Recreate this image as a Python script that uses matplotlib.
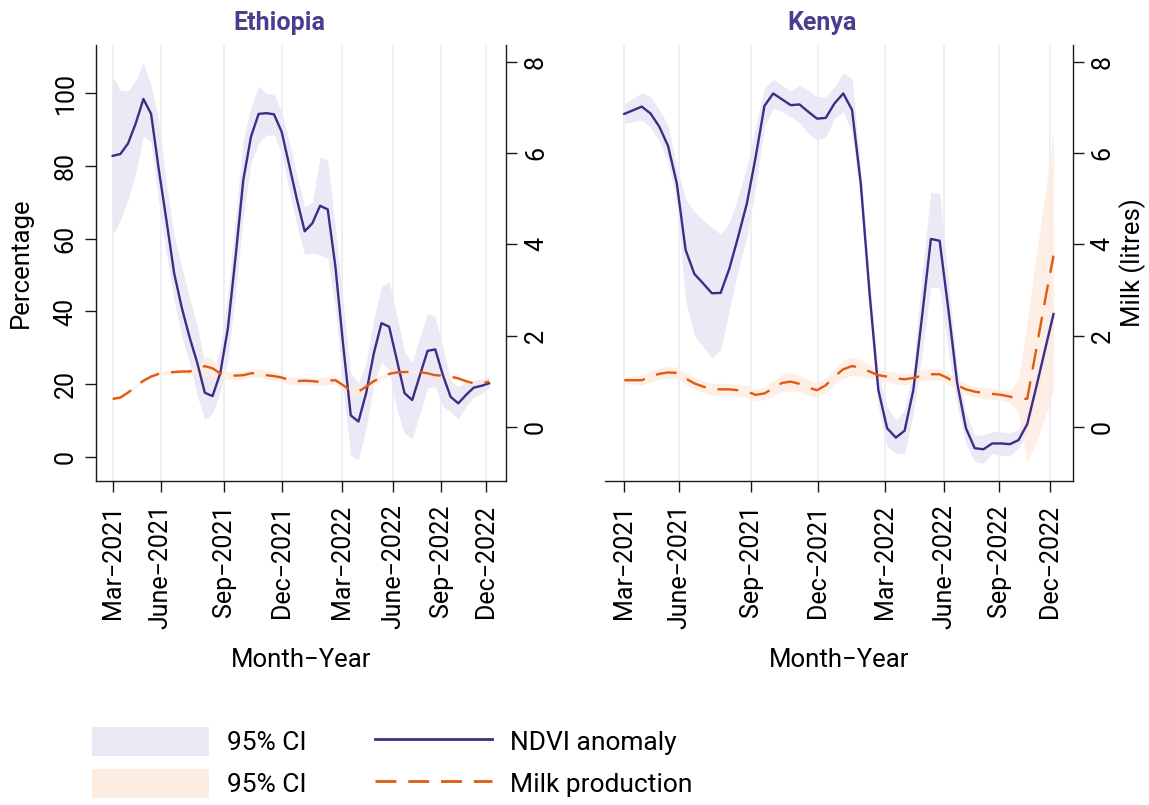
import matplotlib
matplotlib.use("Agg")
import matplotlib.pyplot as plt
from matplotlib.patches import Patch
from matplotlib.lines import Line2D

plt.rcParams['font.family'] = ['Roboto', 'DejaVu Sans']
plt.rcParams['lines.scale_dashes'] = False

# observation index (semi-monthly rounds) and where the month labels fall
obs = list(range(50))
tick_pos = [0, 6.25, 14.45, 22.1, 29.8, 36.5, 42.8, 48.6]
tick_labels = ["Mar\u22122021", "June\u22122021", "Sep\u22122021", "Dec\u22122021",
               "Mar\u22122022", "June\u22122022", "Sep\u22122022", "Dec\u22122022"]

# Ethiopia: NDVI anomaly (percentage) with 95% CI
eth_ndvi = [82.7, 83.2, 86.1, 91.6, 98.3, 94.2, 79, 65, 50.5, 41,
            33, 26, 17.7, 16.8, 23, 35.4, 55, 76, 87.9, 94.2,
            94.4, 94.1, 89.3, 80, 70.6, 62, 64.2, 69, 68, 52.3,
            31, 11.5, 9.8, 17.6, 28.5, 36.8, 35.8, 26.7, 17.6, 15.7,
            22.5, 29.2, 29.6, 22.5, 16.6, 14.8, 17.1, 19.1, 19.6, 20.3]
eth_ndvi_hi = [104.6, 100.7, 100.5, 103.5, 108.1, 102.1, 92, 75, 61, 52,
               44, 36, 26, 22, 30, 45, 66, 87, 96.2, 101.8,
               99.8, 99.6, 94.8, 86.5, 77, 68.7, 70, 82.4, 81.5, 63,
               43, 23, 20.3, 26, 38, 46.8, 48.2, 39, 29, 26,
               33, 39.5, 38.6, 30, 21, 19.5, 20.5, 21, 21.5, 22.1]
eth_ndvi_lo = [61, 65.1, 70.6, 77.9, 88.1, 86.6, 70, 56, 43, 33,
               26, 17, 10.3, 12, 18, 27, 45, 66, 80.6, 86.1,
               88.4, 88.4, 83.4, 73, 63.5, 55.5, 56, 55.5, 54.6, 41,
               19, 0.5, -0.7, 8, 20, 26.2, 23.9, 13, 6.6, 5.2,
               12, 19, 19.4, 14, 12.5, 10.5, 14, 16.5, 17.5, 19]

# Ethiopia: milk production (litres) with 95% CI
eth_milk = [0.61, 0.64, 0.75, 0.88, 1.01, 1.10, 1.16, 1.18, 1.20, 1.21,
            1.21, 1.26, 1.33, 1.28, 1.17, 1.13, 1.12, 1.13, 1.17, 1.18,
            1.13, 1.11, 1.08, 1.02, 1.00, 1.01, 1.00, 0.98, 1.01, 1.02,
            0.91, 0.79, 0.77, 0.88, 1.00, 1.08, 1.16, 1.19, 1.20, 1.20,
            1.20, 1.17, 1.13, 1.12, 1.10, 1.06, 1.00, 0.95, 0.95, 0.99]
eth_milk_hi = [0.64, 0.67, 0.78, 0.91, 1.04, 1.13, 1.19, 1.22, 1.24, 1.26,
               1.27, 1.38, 1.55, 1.48, 1.29, 1.21, 1.21, 1.22, 1.26, 1.27,
               1.22, 1.20, 1.17, 1.11, 1.09, 1.10, 1.09, 1.07, 1.10, 1.11,
               1.02, 0.91, 0.89, 0.98, 1.07, 1.13, 1.20, 1.23, 1.24, 1.24,
               1.24, 1.21, 1.17, 1.16, 1.14, 1.10, 1.04, 1.00, 1.00, 1.04]
eth_milk_lo = [0.58, 0.61, 0.72, 0.85, 0.98, 1.07, 1.13, 1.14, 1.16, 1.16,
               1.15, 1.14, 1.11, 1.08, 1.05, 1.05, 1.03, 1.04, 1.08, 1.09,
               1.04, 1.02, 0.99, 0.93, 0.91, 0.92, 0.91, 0.89, 0.92, 0.93,
               0.80, 0.67, 0.65, 0.78, 0.93, 1.03, 1.12, 1.15, 1.16, 1.16,
               1.16, 1.13, 1.09, 1.08, 1.06, 1.02, 0.96, 0.90, 0.90, 0.94]

# Kenya: NDVI anomaly (percentage) with 95% CI
ken_ndvi = [94.2, 95.2, 96.2, 94.3, 90.7, 85.4, 75.1, 56.9, 50.3, 47.7,
            45, 45.1, 51.8, 60.5, 69.7, 82.4, 96.4, 99.8, 98.2, 96.6,
            96.8, 94.8, 92.9, 93.1, 97.1, 99.8, 95.3, 75, 45, 18.5,
            8, 5.4, 7.3, 18.5, 38.8, 59.9, 59.4, 40.5, 20.4, 8,
            2.5, 2.2, 3.8, 3.8, 3.6, 4.7, 9.1, 19, 29.2, 39.3]
ken_ndvi_hi = [97.1, 98.5, 100, 98.9, 95.3, 91.1, 79.7, 70.8, 67.4, 65.1,
               63.1, 61.2, 64.3, 71.5, 79.7, 90.7, 101.2, 103.7, 102.1, 100.5,
               102.1, 100.7, 98.9, 98.9, 101.6, 105.5, 103.7, 79, 49, 23.1,
               13.9, 10.2, 13, 24.8, 50.5, 72.8, 72.4, 48.6, 24.8, 12.1,
               6.1, 6.1, 7, 7, 6.7, 7.5, 13, 23, 33, 43]
ken_ndvi_lo = [91.6, 92, 92.5, 90.5, 86.6, 81.1, 69.7, 43.1, 33.5, 30.3,
               27.2, 29.4, 40.4, 51.4, 60.5, 74.2, 90.7, 95.7, 94.8, 93.4,
               91.8, 88.9, 87, 87.9, 93, 94.8, 88.9, 71, 41, 13.9,
               2.9, 1.1, 1.1, 12.1, 28.5, 46.8, 46.4, 29.4, 13.9, 3.8,
               -1.2, -1.6, 1.1, 0.6, 0.4, 2.5, 6.6, 15, 25, 35]

# Kenya: milk production (litres) with 95% CI
ken_milk = [1.02, 1.02, 1.02, 1.10, 1.16, 1.19, 1.18, 1.06, 0.95, 0.88,
            0.82, 0.82, 0.82, 0.80, 0.77, 0.70, 0.73, 0.84, 0.96, 0.99,
            0.94, 0.86, 0.80, 0.91, 1.10, 1.26, 1.33, 1.29, 1.21, 1.13,
            1.10, 1.06, 1.04, 1.07, 1.12, 1.15, 1.15, 1.06, 0.91, 0.82,
            0.77, 0.74, 0.72, 0.70, 0.66, 0.62, 0.61, 1.67, 2.74, 3.75]
ken_milk_hi = [1.10, 1.11, 1.13, 1.22, 1.29, 1.32, 1.31, 1.19, 1.08, 1.01,
               0.95, 0.95, 0.95, 0.93, 0.90, 0.83, 0.87, 1.01, 1.15, 1.19,
               1.12, 1.03, 0.96, 1.08, 1.28, 1.46, 1.53, 1.47, 1.36, 1.26,
               1.22, 1.18, 1.16, 1.19, 1.24, 1.28, 1.28, 1.19, 1.04, 0.95,
               0.89, 0.86, 0.84, 0.82, 0.79, 1.05, 2.30, 3.75, 5.05, 6.50]
ken_milk_lo = [0.94, 0.93, 0.91, 0.98, 1.03, 1.06, 1.05, 0.93, 0.82, 0.75,
               0.69, 0.69, 0.69, 0.67, 0.64, 0.57, 0.59, 0.67, 0.77, 0.79,
               0.76, 0.69, 0.64, 0.74, 0.92, 1.06, 1.13, 1.11, 1.06, 1.00,
               0.98, 0.94, 0.92, 0.95, 1.00, 1.02, 1.02, 0.93, 0.78, 0.69,
               0.65, 0.62, 0.60, 0.58, 0.53, 0.30, -0.77, -0.36, 0.19, 0.80]

purple = "#3e2c85"
title_col = "#4e3d8e"
lavender = "#ebe9f5"
orange = "#e05a10"
peach = "#fdece0"
spine_col = "#1a1a1a"
grid_col = "#e6eef0"
dash = (0, (15, 8.6))

W, H = 1149, 805


def rect(left, right, top=45, bottom=481):
    return [left / W, 1 - bottom / H, (right - left) / W, (bottom - top) / H]


panels = [
    ("Ethiopia", rect(95.8, 505.9), 0.447, eth_ndvi, eth_ndvi_lo, eth_ndvi_hi,
     eth_milk, eth_milk_lo, eth_milk_hi, True),
    ("Kenya", rect(605, 1072.8), 0.463, ken_ndvi, ken_ndvi_lo, ken_ndvi_hi,
     ken_milk, ken_milk_lo, ken_milk_hi, False),
]

fig = plt.figure(figsize=(11.49, 8.05), dpi=100)

for name, pos, title_x, nd, nd_lo, nd_hi, mk, mk_lo, mk_hi, first in panels:
    ax = fig.add_axes(pos)
    ax.set_xlim(-2.2, 51.2)
    ax.set_ylim(-6.5, 113.1)
    ax.fill_between(obs, nd_lo, nd_hi, color=lavender, lw=0, zorder=1)

    ax.set_xticks(tick_pos)
    ax.set_xticklabels(tick_labels, rotation=90, va="top", ha="center")
    ax.grid(axis="x", color=grid_col, lw=1.1)
    ax.set_axisbelow(True)
    ax.tick_params(axis="x", length=8, width=1, labelsize=18, pad=9, color=spine_col)
    ax.set_xlabel("Month\u2212Year", fontsize=18.5, labelpad=13)
    ax.set_title(name, fontsize=18, fontweight="bold", color=title_col,
                 pad=11, x=title_x)

    ax.spines["top"].set_visible(False)
    ax.spines["right"].set_visible(False)
    for s in ("left", "bottom"):
        ax.spines[s].set_color(spine_col)
        ax.spines[s].set_linewidth(1)

    ax2 = ax.twinx()
    ax2.set_ylim(-1.19, 8.37)
    ax2.set_yticks([0, 2, 4, 6, 8])
    ax2.fill_between(obs, mk_lo, mk_hi, color=peach, alpha=0.8, lw=0, zorder=1)
    # NDVI line drawn over the milk band, still in percentage units
    ax2.plot(obs, nd, color=purple, lw=1.7, zorder=2, transform=ax.transData)
    ax2.plot(obs, mk, color=orange, lw=1.7, ls=dash, zorder=3)
    ax2.tick_params(axis="y", length=8, width=1, labelsize=18, pad=5, color=spine_col)
    for lab in ax2.get_yticklabels():
        lab.set_rotation(90)
        lab.set_va("center")
    for s in ("top", "left", "bottom"):
        ax2.spines[s].set_visible(False)
    ax2.spines["right"].set_color(spine_col)
    ax2.spines["right"].set_linewidth(1)

    if first:
        ax.set_yticks(range(0, 101, 20))
        ax.tick_params(axis="y", length=8, width=1, labelsize=18, pad=5, color=spine_col)
        for lab in ax.get_yticklabels():
            lab.set_rotation(90)
            lab.set_va("center")
        ax.set_ylabel("Percentage", fontsize=18.5, labelpad=15)
    else:
        ax.spines["left"].set_visible(False)
        ax.tick_params(axis="y", left=False, labelleft=False, right=False, labelright=False)
        ax2.set_ylabel("Milk (litres)", fontsize=18.5, labelpad=3)

handles = [
    Patch(facecolor=lavender, edgecolor="none"),
    Patch(facecolor=peach, edgecolor="none"),
    Line2D([], [], color=purple, lw=2),
    Line2D([], [], color=orange, lw=2, ls=dash),
]
labels = ["95% CI", "95% CI", "NDVI anomaly", "Milk production"]
fig.legend(handles, labels, ncol=2, loc="upper left",
           bbox_to_anchor=(92 / W, 1 - 727 / H), frameon=False, fontsize=19,
           handlelength=4.43, handleheight=1.3, handletextpad=0.68,
           columnspacing=2.6, labelspacing=0.5, borderpad=0, borderaxespad=0)

fig.savefig("out.png", dpi=100)
